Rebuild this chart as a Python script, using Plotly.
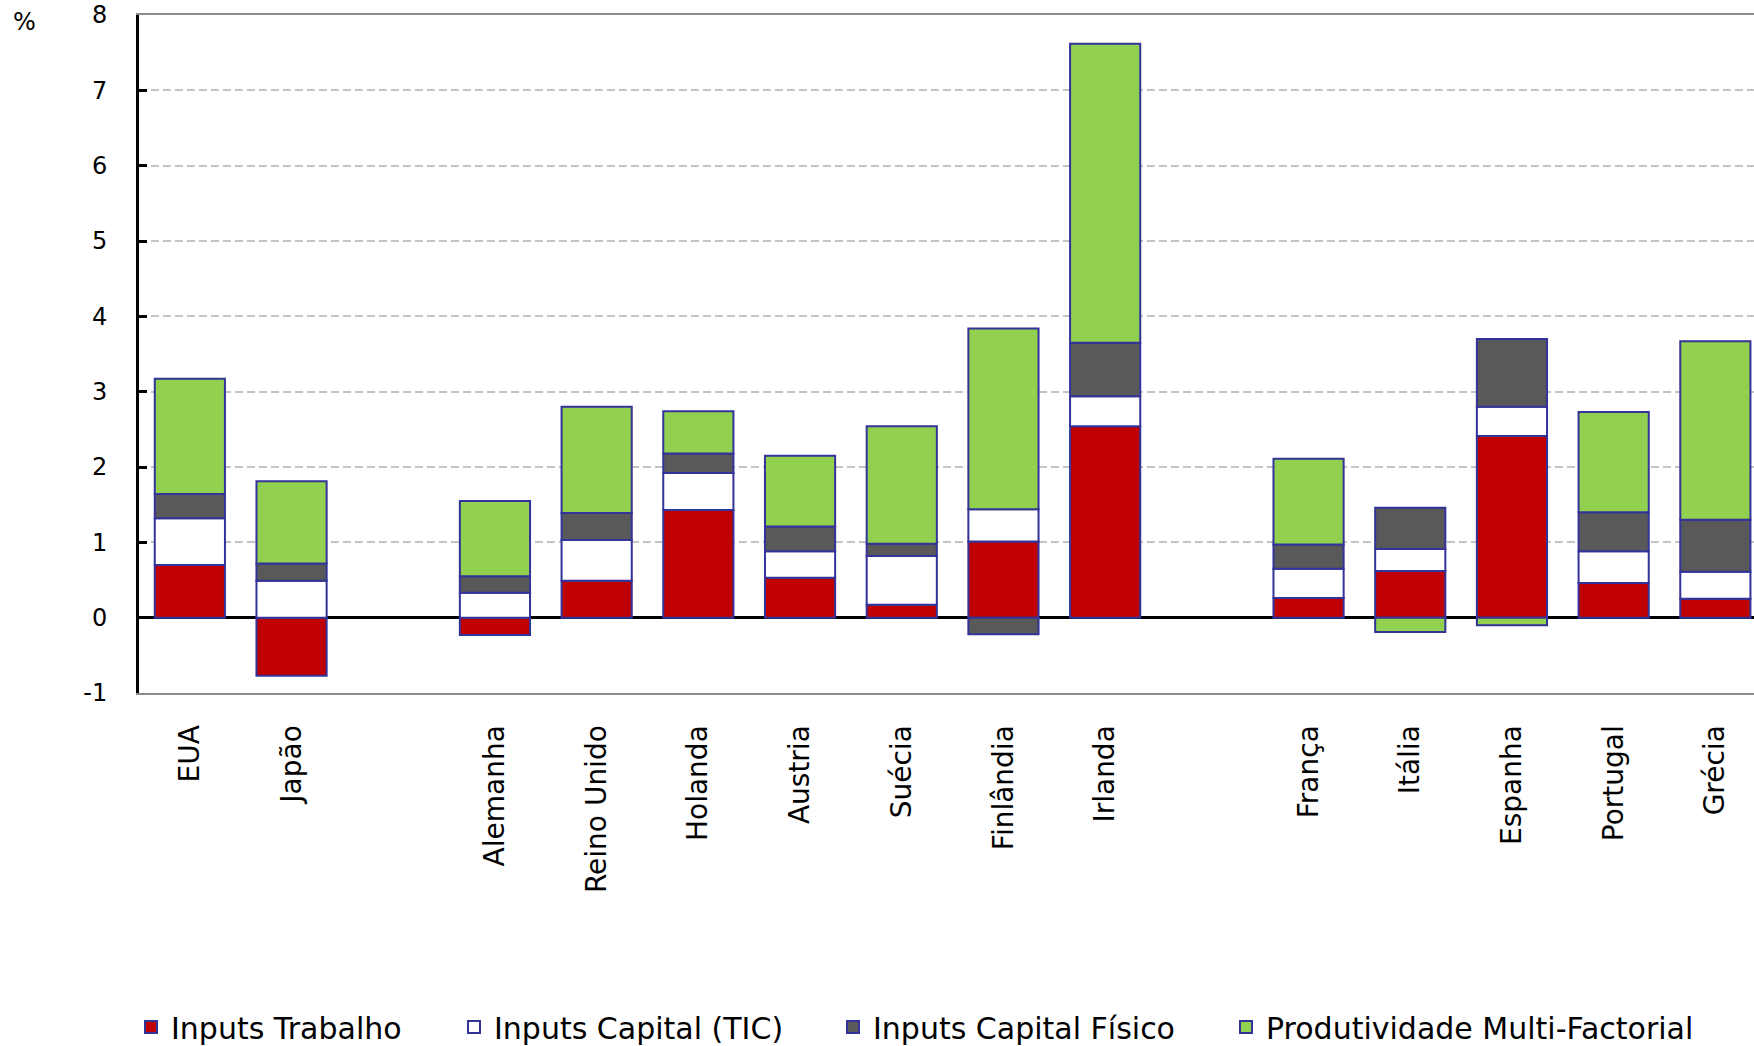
import plotly.graph_objects as go

categories = ["EUA", "Japão", " ", "Alemanha", "Reino Unido", "Holanda", "Austria",
              "Suécia", "Finlândia", "Irlanda", "  ", "França", "Itália", "Espanha",
              "Portugal", "Grécia"]

inputs_trabalho = [0.70, -0.77, None, -0.23, 0.49, 1.43, 0.53, 0.17, 1.01, 2.54, None,
                   0.26, 0.62, 2.41, 0.46, 0.25]
inputs_capital_tic = [0.62, 0.49, None, 0.33, 0.54, 0.49, 0.35, 0.65, 0.43, 0.40, None,
                      0.39, 0.29, 0.39, 0.42, 0.36]
inputs_capital_fisico = [0.32, 0.23, None, 0.22, 0.36, 0.26, 0.33, 0.16, -0.22, 0.71, None,
                         0.32, 0.55, 0.90, 0.52, 0.69]
produtividade_mf = [1.53, 1.09, None, 1.00, 1.41, 0.56, 0.94, 1.56, 2.40, 3.97, None,
                    1.14, -0.19, -0.10, 1.33, 2.37]

y_tick_values = [-1, 0, 1, 2, 3, 4, 5, 6, 7, 8]
y_tick_labels = ["-1", "0", "1", "2", "3", "4", "5", "6", "7", "8"]

series_names = ["Inputs Trabalho", "Inputs Capital (TIC)", "Inputs Capital Físico",
                "Produtividade Multi-Factorial"]
series_values = [inputs_trabalho, inputs_capital_tic, inputs_capital_fisico, produtividade_mf]
series_colors = ["#C00000", "#FFFFFF", "#595959", "#92D050"]
legend_ids = ["legend", "legend2", "legend3", "legend4"]
legend_x_px = [131, 454, 833, 1226]

W, H = 1754, 1046
FONT = "DejaVu Sans"

fig = go.Figure()
for name, vals, col, lg in zip(series_names, series_values, series_colors, legend_ids):
    fig.add_trace(go.Bar(
        x=categories, y=vals, name=name, legend=lg,
        marker=dict(color=col, line=dict(color="#333399", width=2)),
    ))

legend_common = dict(
    orientation="h", xref="container", yref="container",
    xanchor="left", yanchor="middle", y=1 - 1027 / H,
    font=dict(family=FONT, size=30, color="#000000"),
    bgcolor="rgba(0,0,0,0)", borderwidth=0,
)
layout_legends = {}
for lg, px in zip(legend_ids, legend_x_px):
    layout_legends[lg] = dict(legend_common, x=px / W)

fig.update_layout(
    width=W, height=H,
    margin=dict(l=139, r=0, t=15, b=H - 693),
    paper_bgcolor="white", plot_bgcolor="white",
    barmode="relative", bargap=0.31,
    font=dict(family=FONT, color="#000000"),
    showlegend=True,
    **layout_legends,
)

fig.update_xaxes(
    type="category", range=[-0.5, 15.38],
    showline=True, linecolor="#8C8C8C", linewidth=2, mirror=True,
    showgrid=False, ticks="", tickangle=-90,
    tickfont=dict(family=FONT, size=28, color="#000000"),
    ticklabelstandoff=19,
)
fig.update_yaxes(
    range=[-1, 8], tickmode="array", tickvals=y_tick_values, ticktext=y_tick_labels,
    showgrid=True, gridcolor="#C4C4C4", gridwidth=2, griddash="8px,4px",
    zeroline=True, zerolinecolor="#000000", zerolinewidth=3,
    showline=True, linecolor="#000000", linewidth=3,
    ticks="inside", ticklen=8, tickwidth=3, tickcolor="#000000",
    tickfont=dict(family=FONT, size=24, color="#000000"),
    ticklabelstandoff=24,
)

fig.add_annotation(
    text="%", xref="paper", yref="paper", x=-(139 - 24) / (W - 139), y=1 + (15 - 22) / 678,
    showarrow=False, xanchor="center", yanchor="middle",
    font=dict(family=FONT, size=24, color="#000000"),
)

fig.write_html("out.html", config={"displayModeBar": False},
               post_script="document.body.style.margin='0';")
